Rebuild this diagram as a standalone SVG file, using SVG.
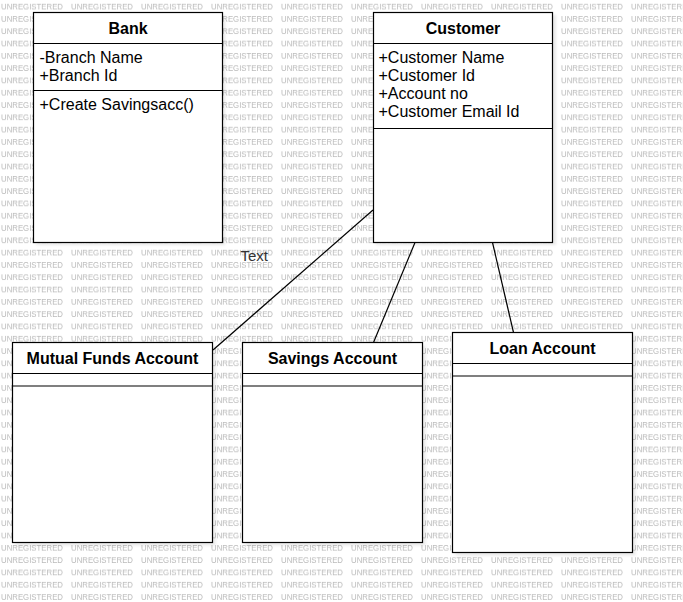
<svg xmlns="http://www.w3.org/2000/svg" width="683" height="602" viewBox="0 0 683 602">
  <style>
    .box { fill: #ffffff; stroke: #000000; stroke-width: 1.2; }
    .sep { stroke: #000000; stroke-width: 1.2; fill: none; }
    .shadow { fill: #000000; fill-opacity: 0.09; }
    .title { font-family: "Liberation Sans", Arial, sans-serif; font-size: 16px; font-weight: bold; fill: #000000; text-anchor: middle; }
    .attr { font-family: "Liberation Sans", Arial, sans-serif; font-size: 16px; fill: #000000; }
    .wm { font-family: "Liberation Sans", Arial, sans-serif; font-size: 8px; fill: #b9b9b9; }
    .edge { stroke: #000000; stroke-width: 1.2; fill: none; }
    .elabel { font-family: "Liberation Sans", Arial, sans-serif; font-size: 15px; fill: #333333; }
  </style>
  <defs>
    <pattern id="wmPattern" x="0" y="0" width="70" height="12.3" patternUnits="userSpaceOnUse">
      <text class="wm" x="1" y="9.8" textLength="62" lengthAdjust="spacingAndGlyphs">UNREGISTERED</text>
    </pattern>
    <filter id="blur" x="-10%" y="-10%" width="120%" height="120%">
      <feGaussianBlur stdDeviation="1.5"/>
    </filter>
  </defs>

  <rect x="0" y="0" width="683" height="602" fill="#ffffff"/>
  <rect x="0" y="0" width="683" height="602" fill="url(#wmPattern)"/>

  <g id="shadows" filter="url(#blur)">
    <rect class="shadow" x="36" y="15" width="189" height="230"/>
    <rect class="shadow" x="376" y="15" width="180" height="230"/>
    <rect class="shadow" x="15.5" y="345.5" width="200" height="200"/>
    <rect class="shadow" x="245.5" y="345.5" width="180" height="200"/>
    <rect class="shadow" x="455.5" y="335.5" width="180" height="220"/>
  </g>

  <g id="connectors">
    <line class="edge" x1="373" y1="210" x2="213" y2="350"/>
    <line class="edge" x1="415" y1="242.5" x2="373.5" y2="342.5"/>
    <line class="edge" x1="492.5" y1="242.5" x2="513.5" y2="332.5"/>
    <text class="elabel" x="240.5" y="261">Text</text>
  </g>

  <g id="bank">
    <rect class="box" x="33.5" y="12.5" width="189" height="230"/>
    <line class="sep" x1="33.5" y1="43.5" x2="222.5" y2="43.5"/>
    <line class="sep" x1="33.5" y1="90.5" x2="222.5" y2="90.5"/>
    <text class="title" x="128" y="34">Bank</text>
    <text class="attr" x="39.5" y="63">-Branch Name</text>
    <text class="attr" x="39.5" y="81">+Branch Id</text>
    <text class="attr" x="39.5" y="110">+Create Savingsacc()</text>
  </g>

  <g id="customer">
    <rect class="box" x="373.5" y="12.5" width="179" height="230"/>
    <line class="sep" x1="373.5" y1="43.5" x2="552.5" y2="43.5"/>
    <line class="sep" x1="373.5" y1="128.5" x2="552.5" y2="128.5"/>
    <text class="title" x="463" y="34">Customer</text>
    <text class="attr" x="378.5" y="63">+Customer Name</text>
    <text class="attr" x="378.5" y="81">+Customer Id</text>
    <text class="attr" x="378.5" y="99">+Account no</text>
    <text class="attr" x="378.5" y="117">+Customer Email Id</text>
  </g>

  <g id="mutual-funds-account">
    <rect class="box" x="12.5" y="342.5" width="200" height="200"/>
    <line class="sep" x1="12.5" y1="373.5" x2="212.5" y2="373.5"/>
    <line class="sep" x1="12.5" y1="386" x2="212.5" y2="386"/>
    <text class="title" x="112.5" y="364">Mutual Funds Account</text>
  </g>

  <g id="savings-account">
    <rect class="box" x="242.5" y="342.5" width="180" height="200"/>
    <line class="sep" x1="242.5" y1="373.5" x2="422.5" y2="373.5"/>
    <line class="sep" x1="242.5" y1="386" x2="422.5" y2="386"/>
    <text class="title" x="332.5" y="364">Savings Account</text>
  </g>

  <g id="loan-account">
    <rect class="box" x="452.5" y="332.5" width="180" height="220"/>
    <line class="sep" x1="452.5" y1="363.5" x2="632.5" y2="363.5"/>
    <line class="sep" x1="452.5" y1="376" x2="632.5" y2="376"/>
    <text class="title" x="542.5" y="354">Loan Account</text>
  </g>
</svg>
